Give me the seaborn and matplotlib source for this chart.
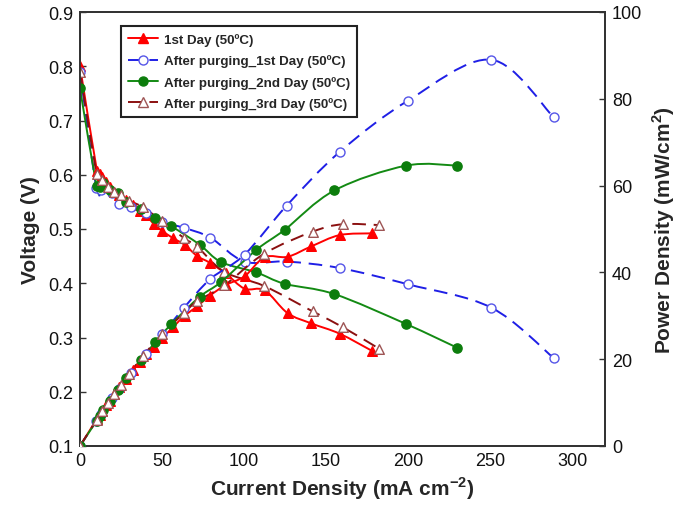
import numpy as np
import pandas as pd
import matplotlib
matplotlib.use("Agg")
import matplotlib.pyplot as plt
import seaborn as sns
from matplotlib.path import Path
from matplotlib.patches import PathPatch
from matplotlib.lines import Line2D

# ---- data: current density (mA/cm2), voltage (V), power density (mW/cm2) ----
i_day1 = [0, 10.4, 12.0, 13.6, 16.0, 18.0, 21.0, 24.0, 28.0, 32.0, 36.3, 40.3, 44.8,
          49.9, 56.8, 63.7, 71.5, 79.0, 88.8, 100.3, 112.5, 126.5, 141.0, 158.3, 178.2]
v_day1 = [0.800, 0.606, 0.601, 0.596, 0.587, 0.578, 0.569, 0.562, 0.553, 0.545, 0.534,
          0.525, 0.510, 0.497, 0.483, 0.471, 0.450, 0.438, 0.418, 0.390, 0.387, 0.345,
          0.326, 0.307, 0.275]
p_day1 = [0, 6.3, 7.2, 8.1, 9.4, 10.4, 11.9, 13.5, 15.5, 17.4, 19.4, 21.2, 22.8, 24.8,
          27.4, 30.0, 32.2, 34.6, 37.1, 39.1, 43.5, 43.6, 46.0, 48.6, 49.0]

i_purge1 = [0, 10.0, 13.0, 19.5, 24.0, 31.0, 40.0, 50.0, 63.5, 79.5, 100.3, 126.0,
            158.4, 200.0, 250.7, 288.8]
v_purge1 = [0.790, 0.575, 0.572, 0.566, 0.547, 0.541, 0.530, 0.513, 0.502, 0.484,
            0.440, 0.440, 0.428, 0.398, 0.355, 0.262]
p_purge1 = [0, 5.8, 7.4, 11.0, 13.1, 16.8, 21.2, 25.7, 31.9, 38.5, 44.1, 55.4, 67.8,
            79.6, 89.0, 75.7]

i_purge2 = [0, 10.1, 12.0, 14.1, 18.0, 22.9, 28.3, 37.1, 45.9, 55.7, 73.0, 86.0,
            107.5, 124.7, 155.1, 198.7, 230.0]
v_purge2 = [0.759, 0.579, 0.578, 0.584, 0.572, 0.567, 0.550, 0.537, 0.520, 0.505,
            0.471, 0.439, 0.420, 0.399, 0.380, 0.325, 0.281]
p_purge2 = [0, 5.8, 6.9, 8.2, 10.3, 13.0, 15.6, 19.9, 23.9, 28.1, 34.4, 37.8, 45.2,
            49.8, 58.9, 64.6, 64.6]

i_purge3 = [0, 10.2, 13.5, 17.2, 21.0, 25.0, 30.0, 38.5, 50.1, 63.5, 71.5, 88.0,
            112.2, 141.9, 160.2, 182.5]
v_purge3 = [0.790, 0.601, 0.590, 0.577, 0.568, 0.562, 0.552, 0.540, 0.514, 0.483,
            0.467, 0.421, 0.395, 0.348, 0.319, 0.279]
p_purge3 = [0, 6.1, 8.0, 9.9, 11.9, 14.1, 16.6, 20.8, 25.8, 30.7, 33.4, 37.0, 44.3,
            49.4, 51.1, 50.9]

labels = ["1st Day (50\u00baC)",
          "After purging_1st Day (50\u00baC)",
          "After purging_2nd Day (50\u00baC)",
          "After purging_3rd Day (50\u00baC)"]

x_ticks = [0, 50, 100, 150, 200, 250, 300]
v_ticks = [0.1, 0.2, 0.3, 0.4, 0.5, 0.6, 0.7, 0.8, 0.9]
p_ticks = [0, 20, 40, 60, 80, 100]

# ---- styling per series ----
styles = [
    dict(line="#ff0000", edge="#ff0000", face="#ff0000", marker="^", dash=None, s=48),
    dict(line="#1f1fe6", edge="#5555e8", face="white", marker="o", dash=(0, (7.0, 4.0)), s=42),
    dict(line="#138a13", edge="#0c7d0c", face="#0c7d0c", marker="o", dash=None, s=44),
    dict(line="#8b1010", edge="#9e5555", face="white", marker="^", dash=(0, (7.0, 4.0)), s=48),
]

series = [
    (i_day1, v_day1, p_day1),
    (i_purge1, v_purge1, p_purge1),
    (i_purge2, v_purge2, p_purge2),
    (i_purge3, v_purge3, p_purge3),
]

sns.set_theme(style="white")
plt.rcParams["font.family"] = ["Liberation Sans", "DejaVu Sans"]
plt.rcParams["mathtext.fontset"] = "custom"
plt.rcParams["mathtext.rm"] = "Liberation Sans"
plt.rcParams["mathtext.bf"] = "Liberation Sans:bold"


def smooth_path(x, y):
    """Smoothed (Catmull-Rom style) cubic Bezier path through the points."""
    pts = np.column_stack([x, y]).astype(float)
    n = len(pts)
    verts = [pts[0]]
    codes = [Path.MOVETO]
    for k in range(n - 1):
        p0 = pts[k - 1] if k > 0 else pts[k]
        p1 = pts[k]
        p2 = pts[k + 1]
        p3 = pts[k + 2] if k + 2 < n else pts[k + 1]
        c1 = p1 + (p2 - p0) / 6.0
        c2 = p2 - (p3 - p1) / 6.0
        verts += [c1, c2, p2]
        codes += [Path.CURVE4] * 3
    return Path(verts, codes)


fig = plt.figure(figsize=(6.87, 5.06), dpi=100)
ax = fig.add_axes([80 / 687, 1 - 447 / 506, 525 / 687, 434 / 506])
ax2 = ax.twinx()

for (cur, volt, powr), st, lab in zip(series, styles, labels):
    df = pd.DataFrame({"current": cur, "voltage": volt, "power": powr})
    for axis, col in ((ax, "voltage"), (ax2, "power")):
        patch = PathPatch(smooth_path(df["current"], df[col]), fill=False,
                          edgecolor=st["line"], lw=1.4,
                          linestyle=st["dash"] if st["dash"] else "solid",
                          transform=axis.transData, zorder=2)
        axis.add_patch(patch)
        sns.scatterplot(data=df, x="current", y=col, ax=axis, marker=st["marker"],
                        s=st["s"], color=st["face"], edgecolor=st["edge"],
                        linewidth=1.0, zorder=3, legend=False)

ax.set_xlim(0, 320)
ax.set_ylim(0.1, 0.9)
ax2.set_ylim(0, 100)
ax.set_xticks(x_ticks)
ax.set_yticks(v_ticks)
ax2.set_yticks(p_ticks)
ax.set_yticklabels([f"{t:.1f}" for t in v_ticks])
ax2.set_yticklabels([str(t) for t in p_ticks])

for a in (ax, ax2):
    for sp in a.spines.values():
        sp.set_color("#333333")
        sp.set_linewidth(1.3)
    a.tick_params(direction="in", length=4, width=1.0, color="#333333",
                  labelsize=13, labelcolor="#111111")
ax.tick_params(axis="x", pad=4)
ax.tick_params(axis="y", pad=5, left=True)
ax2.tick_params(axis="y", pad=5, right=True)

ax.set_xlabel(r"Current Density (mA cm$^{\mathbf{-2}}$)", fontsize=15,
              fontweight="bold", labelpad=4)
ax.set_ylabel("Voltage (V)", fontsize=15, fontweight="bold", labelpad=6)
ax2.set_ylabel(r"Power Density (mW/cm$^{\mathbf{2}}$)", fontsize=15,
               fontweight="bold", labelpad=6)

handles = []
for st, lab in zip(styles, labels):
    handles.append(Line2D([], [], color=st["line"], lw=1.4,
                          linestyle=st["dash"] if st["dash"] else "solid",
                          marker=st["marker"], markersize=6.5,
                          markerfacecolor=st["face"], markeredgecolor=st["edge"],
                          markeredgewidth=1.0, label=lab))
leg = ax2.legend(handles=handles, loc="upper left", bbox_to_anchor=(0.078, 0.968),
                 borderaxespad=0, frameon=True, fancybox=False, framealpha=1,
                 edgecolor="#222222", prop={"weight": "bold", "size": 9.6},
                 handlelength=2.2, handletextpad=0.45, labelspacing=0.62,
                 borderpad=0.55)
leg.get_frame().set_linewidth(1.5)

fig.savefig("out.png", dpi=100)
